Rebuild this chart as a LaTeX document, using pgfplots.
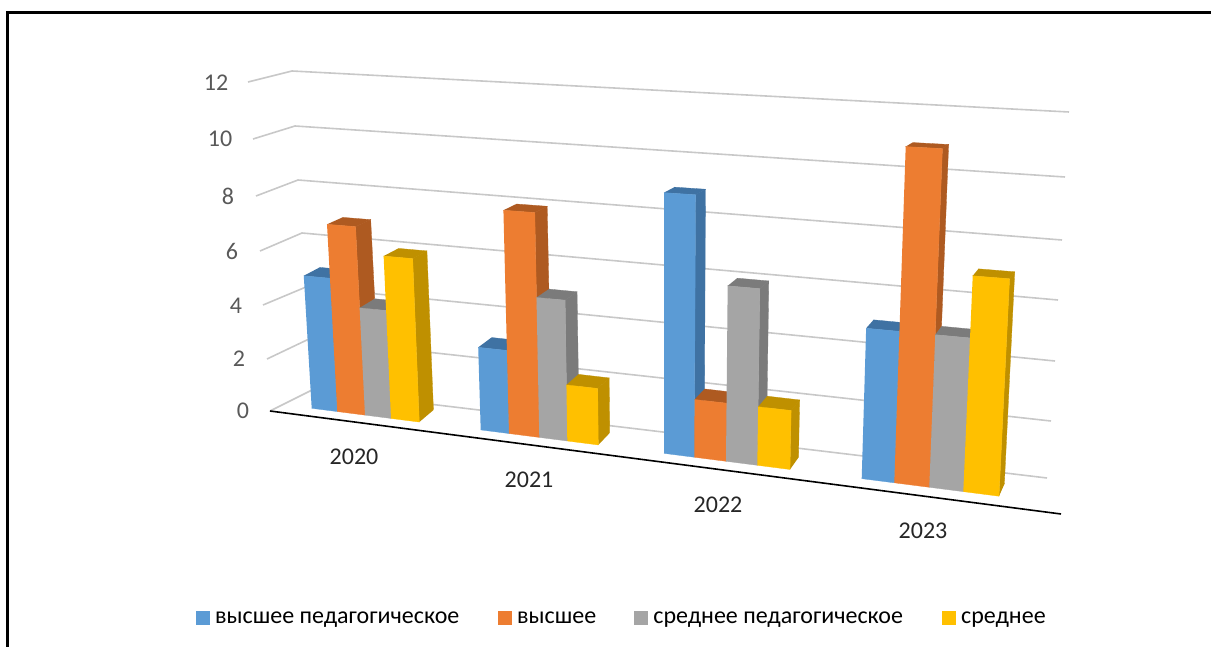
\documentclass[border=0pt]{standalone}
\usepackage{fontspec}
\setmainfont{Carlito}
\usepackage{pgfplots}
\pgfplotsset{compat=1.18}
\definecolor{cblue}{HTML}{5B9BD5}
\definecolor{corange}{HTML}{ED7D31}
\definecolor{cgray}{HTML}{A5A5A5}
\definecolor{cyellow}{HTML}{FFC000}
\definecolor{sblue}{HTML}{3F72A3}
\definecolor{sorange}{HTML}{AE5A21}
\definecolor{sgray}{HTML}{7B7B7B}
\definecolor{syellow}{HTML}{BF9000}
\definecolor{cgrid}{HTML}{C8C8C8}
\definecolor{ticktext}{HTML}{595959}
% #1 front colour, #2 side colour, #3 value, #4 base x left, #5 base x right
\newcommand\tdbar[5]{%
  \pgfmathsetmacro\xa{#4}\pgfmathsetmacro\xb{#5}%
  \pgfmathsetmacro\ya{408.3+0.1279*(\xa-311.7)}%
  \pgfmathsetmacro\yb{408.3+0.1279*(\xb-311.7)}%
  \pgfmathsetmacro\xta{\xa+#3*0.0045*(\xa-664)}%
  \pgfmathsetmacro\xtb{\xb+#3*0.0045*(\xb-664)}%
  \pgfmathsetmacro\pers{1+0.0015*(#3-5)}%
  \pgfmathsetmacro\yta{\ya-#3*\pers*(26.5+0.0065*(\xa-311))}%
  \pgfmathsetmacro\ytb{\yb-#3*\pers*(26.5+0.0065*(\xb-311))}%
  \pgfmathsetmacro\dxa{15.5-0.0152*(\xta-330)}%
  \pgfmathsetmacro\dxb{15.5-0.0152*(\xtb-330)}%
  \pgfmathsetmacro\dxc{15.5-0.0152*(\xb-330)}%
  \pgfmathsetmacro\dyt{-12+0.72*#3}%
  \pgfmathsetmacro\xbb{\xb+\dxc}\pgfmathsetmacro\ybb{\yb-12}%
  \pgfmathsetmacro\xba{\xta+\dxa}\pgfmathsetmacro\yba{\yta+\dyt}%
  \pgfmathsetmacro\xbt{\xtb+\dxb}\pgfmathsetmacro\ybt{\ytb+\dyt}%
  \edef\temp{\noexpand\addplot[fill=#2,draw=#2,line width=0.3pt,forget plot] coordinates {(\xb,\yb)(\xtb,\ytb)(\xbt,\ybt)(\xbb,\ybb)};
    \noexpand\addplot[fill=#2,draw=#2,line width=0.3pt,forget plot] coordinates {(\xta,\yta)(\xtb,\ytb)(\xbt,\ybt)(\xba,\yba)};
    \noexpand\addplot[fill=#1,draw=#1,line width=0.3pt,forget plot] coordinates {(\xa,\ya)(\xb,\yb)(\xtb,\ytb)(\xta,\yta)};}%
  \temp
}
\begin{document}
\begin{tikzpicture}
\begin{axis}[
  scale only axis, width=1211pt, height=647pt,
  xmin=0, xmax=1211, ymin=0, ymax=647, y dir=reverse,
  hide axis, clip=true,
  legend columns=4,
  legend image code/.code={\fill[#1,draw=none] (0pt,-7pt) rectangle (14pt,7pt); \path (17pt,0pt);},
  legend style={draw=none, fill=none, at={(axis cs:196,618)}, anchor=west,
    inner sep=0pt, outer sep=0pt, font=\fontsize{24}{26}\selectfont,
    /tikz/column 2/.style={column sep=36.7pt},
    /tikz/column 4/.style={column sep=36pt},
    /tikz/column 6/.style={column sep=37pt},
  },
]
% frame
\addplot[black,line width=3pt,forget plot] coordinates {(7,660)(7,12.5)(1225,12.5)};
% gridlines: side wall and back wall
\addplot[cgrid,line width=1.6pt,forget plot] coordinates {(248,82)(292,71)(1069,112)};
\addplot[cgrid,line width=1.6pt,forget plot] coordinates {(253,139)(295,126)(1065,177)};
\addplot[cgrid,line width=1.6pt,forget plot] coordinates {(256,196)(298,180)(1062,240)};
\addplot[cgrid,line width=1.6pt,forget plot] coordinates {(260,251)(302,233)(1058,300)};
\addplot[cgrid,line width=1.6pt,forget plot] coordinates {(263,305)(306,287)(1055,361)};
\addplot[cgrid,line width=1.6pt,forget plot] coordinates {(267,359)(309,339)(1051,421)};
\addplot[cgrid,line width=1.6pt,forget plot] coordinates {(270,411)(312,390)(1047,478)};
% floor line
\addplot[black,line width=1.6pt,forget plot] coordinates {(270,411)(1061,514)};
% 2020
\tdbar{cblue}{sblue}{5}{311.7}{337.3}
\tdbar{corange}{sorange}{7}{337.3}{365}
\tdbar{cgray}{sgray}{4}{365}{391}
\tdbar{cyellow}{syellow}{6}{391}{419.3}
% 2021
\tdbar{cblue}{sblue}{3}{480.7}{509}
\tdbar{corange}{sorange}{8}{509}{539.3}
\tdbar{cgray}{sgray}{5}{539.3}{567.3}
\tdbar{cyellow}{syellow}{2}{567.3}{598.3}
% 2022
\tdbar{cblue}{sblue}{9}{664}{694.3}
\tdbar{corange}{sorange}{2}{694.3}{726}
\tdbar{cgray}{sgray}{6}{726}{757.3}
\tdbar{cyellow}{syellow}{2}{757.3}{790}
% 2023
\tdbar{cblue}{sblue}{5}{861.7}{894.3}
\tdbar{corange}{sorange}{11}{894.3}{929.3}
\tdbar{cgray}{sgray}{5}{929.3}{963.3}
\tdbar{cyellow}{syellow}{7}{963.3}{999}
% legend
\addlegendimage{fill=cblue}\addlegendentry{высшее педагогическое}
\addlegendimage{fill=corange}\addlegendentry{высшее}
\addlegendimage{fill=cgray}\addlegendentry{среднее педагогическое}
\addlegendimage{fill=cyellow}\addlegendentry{среднее}
% tick labels
\begin{scope}[every node/.style={font=\fontsize{24}{26}\selectfont,text=ticktext}]
\node at (axis cs:216,83) {12};
\node at (axis cs:220,139) {10};
\node at (axis cs:228,196) {8};
\node at (axis cs:232,251) {6};
\node at (axis cs:236,306) {4};
\node at (axis cs:239,359) {2};
\node at (axis cs:243,411) {0};
\end{scope}
\begin{scope}[every node/.style={font=\fontsize{24}{26}\selectfont,text=black!85}]
\node at (axis cs:354,457) {2020};
\node at (axis cs:529,480) {2021};
\node at (axis cs:718,505) {2022};
\node at (axis cs:923,531) {2023};
\end{scope}
\end{axis}
\pgfresetboundingbox
\path[use as bounding box] (0,0) rectangle (1211pt,647pt);
\end{tikzpicture}
\end{document}
